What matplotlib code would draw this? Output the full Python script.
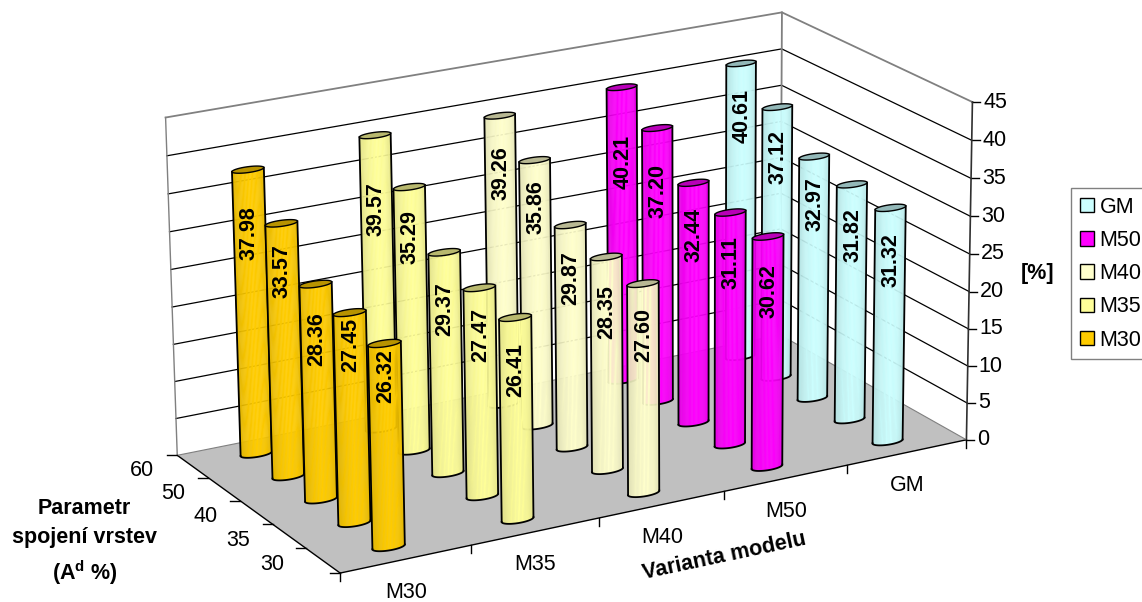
import numpy as np
import matplotlib
matplotlib.use('Agg')
import matplotlib.pyplot as plt
from matplotlib.colors import to_rgb
from matplotlib.patches import Patch

plt.rcParams['font.family'] = ['Liberation Sans', 'DejaVu Sans']
plt.rcParams['mathtext.fontset'] = 'custom'
plt.rcParams['mathtext.bf'] = 'Liberation Sans:bold'
plt.rcParams['mathtext.rm'] = 'Liberation Sans:bold'

# ---------------------------------------------------------------------
# Data
# ---------------------------------------------------------------------
models = ['M30', 'M35', 'M40', 'M50', 'GM']
params = ['60', '50', '40', '35', '30']
value_ticks = [0, 5, 10, 15, 20, 25, 30, 35, 40, 45]

m30 = [37.98, 33.57, 28.36, 27.45, 26.32]
m35 = [39.57, 35.29, 29.37, 27.47, 26.41]
m40 = [39.26, 35.86, 29.87, 28.35, 27.60]
m50 = [40.21, 37.20, 32.44, 31.11, 30.62]
gm = [40.61, 37.12, 32.97, 31.82, 31.32]

series = [m30, m35, m40, m50, gm]
colors = ['#FFCC00', '#FFFF99', '#FFFFCC', '#FF00FF', '#CCFFFF']

# how far each value label sits below the top of its bar, in pixels
label_drop = [[63, 48, 55, 32, 33],
              [74, 50, 57, 47, 53],
              [57, 47, 53, 55, 51],
              [75, 63, 52, 50, 55],
              [53, 50, 47, 51, 52]]

# ---------------------------------------------------------------------
# Projection of the chart box, fitted on its corners (pixel positions)
# ---------------------------------------------------------------------
box = [(0, 0, 0), (5, 0, 0), (0, 5, 0), (5, 5, 0), (0, 5, 45), (5, 5, 45), (5, 0, 45)]
pix = [(340, 575), (966, 437), (177, 453), (781, 338), (166, 118), (781, 11), (973, 103)]

A, b = [], []
for (X, Y, Z), (u, v) in zip(box, pix):
    A.append([X, Y, Z, 1, 0, 0, 0, 0, -u * X, -u * Y, -u * Z])
    A.append([0, 0, 0, 0, X, Y, Z, 1, -v * X, -v * Y, -v * Z])
    b += [u, v]
h = np.linalg.lstsq(np.array(A, float), np.array(b, float), rcond=None)[0]
P = np.append(h, 1).reshape(3, 4)


def proj(x, y, z):
    x, y, z = np.broadcast_arrays(x, y, z)
    q = P @ np.vstack([x.ravel(), y.ravel(), z.ravel(), np.ones(x.size)])
    return q[0] / q[2], q[1] / q[2]


# ---------------------------------------------------------------------
# Plot
# ---------------------------------------------------------------------
fs = 15.5
fig = plt.figure(figsize=(11.42, 6.02), dpi=100)
ax = fig.add_axes([0, 0, 1, 1])
ax.set_xlim(0, 1142)
ax.set_ylim(602, 0)
ax.axis('off')

# floor
fx, fy = proj([0, 5, 5, 0], [0, 0, 5, 5], [0, 0, 0, 0])
ax.fill(fx, fy, color='#C0C0C0', lw=0, zorder=1)
ax.plot(*proj([0, 5], [0, 0], [0, 0]), color='k', lw=1, zorder=2)
ax.plot(*proj([0, 0], [0, 5], [0, 0]), color='k', lw=1, zorder=2)

# walls
for z in value_ticks:
    if z == 45:
        ax.plot(*proj([0, 5, 5], [5, 5, 0], [z, z, z]), color='#808080', lw=1.3, zorder=2)
    elif z > 0:
        ax.plot(*proj([0, 5, 5], [5, 5, 0], [z, z, z]), color='k', lw=0.9, zorder=2)
    else:
        ax.plot(*proj([0, 5, 5], [5, 5, 0], [z, z, z]), color='#808080', lw=0.8, zorder=2)
    tx, ty = proj([5], [0], [z])
    ax.plot([tx[0], tx[0] + 8], [ty[0], ty[0]], color='k', lw=1, zorder=2)
    ax.text(tx[0] + 11, ty[0], str(z), ha='left', va='center', fontsize=fs, color='k')
ax.plot(*proj([0, 0], [5, 5], [0, 45]), color='#808080', lw=1, zorder=2)
ax.plot(*proj([5, 5], [5, 5], [0, 45]), color='#808080', lw=1.3, zorder=2)
ax.plot(*proj([5, 5], [0, 0], [0, 45]), color='#303030', lw=1.2, zorder=2)

# axis ticks and labels
for i in range(6):
    tx, ty = proj([i], [0], [0])
    ax.plot([tx[0], tx[0]], [ty[0], ty[0] + 8], color='k', lw=1, zorder=2)
for i, name in enumerate(models):
    tx, ty = proj([i + 0.5], [0], [0])
    ax.text(tx[0], ty[0] + 33, name, ha='center', va='center', fontsize=fs)
for j in range(6):
    tx, ty = proj([0], [j], [0])
    ax.plot([tx[0], tx[0] - 10], [ty[0], ty[0]], color='k', lw=1, zorder=2)
for j, name in enumerate(params):
    tx, ty = proj([0], [4.5 - j], [0])
    ax.text(tx[0] - 51, ty[0] + 4, name, ha='center', va='center', fontsize=fs)

# cylinders, farthest first
radius = 0.12
ang = np.linspace(0, 2 * np.pi, 73)
zo = 3
for i in range(4, -1, -1):
    base = np.array(to_rgb(colors[i]))
    for j in range(5):
        val = series[i][j]
        cx, cy = i + 0.5, 4.5 - j
        cu = cx + radius * np.cos(ang)
        cv = cy + radius * np.sin(ang)
        bx, by = proj(cu, cv, 0 * ang)
        tx, ty = proj(cu, cv, 0 * ang + val)
        # front arc of the base between its left and right extremes
        il, ir = int(np.argmin(bx[:-1])), int(np.argmax(bx[:-1]))
        idx = (np.arange(il, il + 73) % 72)
        pos = int(np.where(idx == ir)[0][0])
        arc = idx[:pos + 1]
        if by[idx[pos // 2]] < by[idx[(pos + 72) // 2]]:
            arc = idx[pos:73][::-1]
        width = bx[ir] - bx[il]
        for a, c in zip(arc[:-1], arc[1:]):
            f = (0.5 * (bx[a] + bx[c]) - bx[il]) / width
            shade = np.interp(f, [0, 0.25, 0.55, 0.8, 1], [0.88, 0.96, 1.0, 0.98, 0.9])
            ax.fill([bx[a], bx[c], tx[c], tx[a]], [by[a], by[c], ty[c], ty[a]],
                    color=base * shade, lw=0.3, zorder=zo)
        ax.plot(bx[arc], by[arc], color='k', lw=1.3, zorder=zo + 0.1)
        ax.plot([bx[il], tx[il]], [by[il], ty[il]], color='k', lw=1.3, zorder=zo + 0.1)
        ax.plot([bx[ir], tx[ir]], [by[ir], ty[ir]], color='k', lw=1.3, zorder=zo + 0.1)
        ax.fill(tx, ty, facecolor=base * 0.72, edgecolor='k', lw=1, zorder=zo + 0.2)
        lx, ly = proj([cx], [cy], [val])
        ax.text(lx[0] + 1, ly[0] + label_drop[i][j], f'{val:.2f}', rotation=90, ha='center', va='center',
                fontsize=15.5, fontweight='bold', zorder=zo + 0.3)
        zo += 1

# axis titles
bold = dict(ha='center', va='center', fontsize=fs, fontweight='bold')
ax.text(84, 508, 'Parametr', **bold)
ax.text(84, 538, 'spojení vrstev', **bold)
ax.text(85, 573, r'(A$^{\mathbf{d}}$ %)', **bold)
ax.text(724, 556, 'Varianta modelu', rotation=12, **bold)
ax.text(1038, 274, '[%]', **bold)

handles = [Patch(facecolor=colors[k], edgecolor='k', lw=1, label=models[k]) for k in range(4, -1, -1)]
ax.legend(handles=handles, loc='upper left', bbox_to_anchor=(1071 / 1142, 1 - 188 / 602),
          bbox_transform=fig.transFigure, borderaxespad=0, fontsize=fs, frameon=True, fancybox=False,
          edgecolor='#808080', framealpha=1, handlelength=0.65, handleheight=0.65,
          handletextpad=0.28, labelspacing=0.57, borderpad=0.4)

fig.savefig('out.png', dpi=100)
